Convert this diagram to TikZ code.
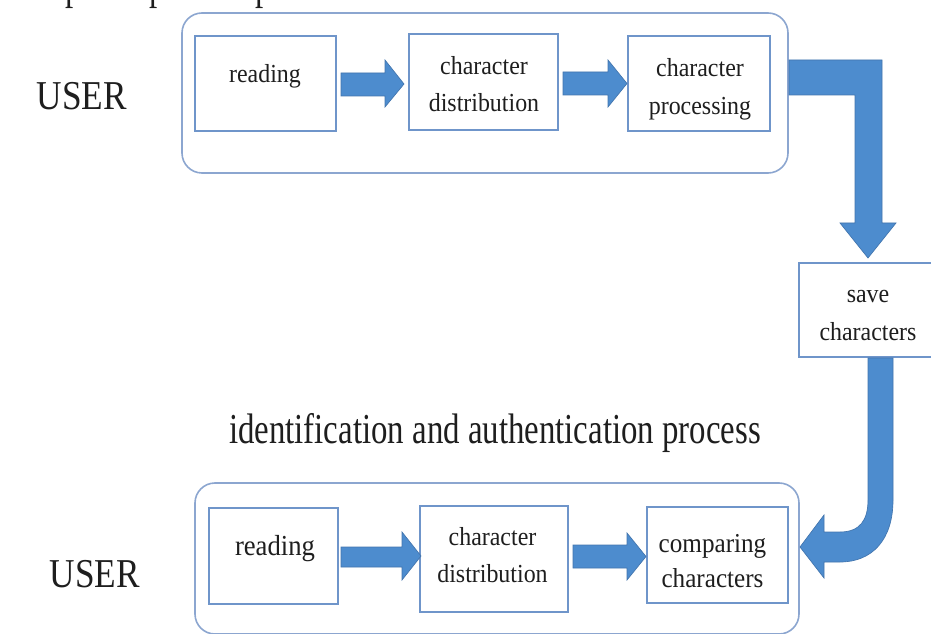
\documentclass[tikz,border=0pt]{standalone}
\usepackage{fontspec}
\setmainfont{Liberation Serif}
\newfontfamily\boxfont[FakeStretch=0.92]{Liberation Serif}
\newfontfamily\userfont[FakeStretch=0.86]{Liberation Serif}
\newfontfamily\titlefont[FakeStretch=0.77]{Liberation Serif}
\definecolor{arrowblue}{HTML}{4D8CCE}
\definecolor{arrowedge}{HTML}{4275AE}
\definecolor{boxedge}{HTML}{6F95CA}
\definecolor{outeredge}{HTML}{8CA6D0}
\definecolor{inktext}{HTML}{1E1E1E}
\tikzset{
  stepbox/.style={draw=boxedge, line width=1.5pt, fill=white, inner sep=0pt},
  outerbox/.style={draw=outeredge, line width=1.2pt, fill=white, rounded corners=15pt},
  blockarrow/.style={fill=arrowblue, draw=arrowedge, line width=0.5pt},
  lbl/.style={anchor=base, inner sep=0pt, text=inktext, font=\boxfont\fontsize{19.5}{24}\selectfont},
  userlbl/.style={anchor=base, inner sep=0pt, text=inktext, font=\userfont\fontsize{30.75}{36}\selectfont},
  titlelbl/.style={anchor=base, inner sep=0pt, text=inktext, font=\titlefont\fontsize{32}{38}\selectfont}
}
\begin{document}
\begin{tikzpicture}[x=0.75pt,y=-0.75pt]
\clip (0,0) rectangle (931,634);
\fill[white] (0,0) rectangle (931,634);

% cut-off text at the very top (only descenders visible)
\node[titlelbl] (p1) at (74,0) {p};
\node[titlelbl] (p2) at (158,0) {p};
\node[titlelbl] (p3) at (264,0) {p};

% ---------- top group ----------
\draw[outerbox] (182,13) rectangle (788,173);
\node[userlbl] (user1) at (82,110) {USER};

\node[stepbox, minimum width=141*0.75pt, minimum height=95*0.75pt] (r1) at (265.5,83.5) {};
\node[stepbox, minimum width=149*0.75pt, minimum height=96*0.75pt] (d1) at (483.5,82) {};
\node[stepbox, minimum width=142*0.75pt, minimum height=95*0.75pt] (c1) at (699,83.5) {};

\node[lbl] (r1t) at (265,83) {reading};
\node[lbl] (d1t) at (484,75) {character};
\node[lbl] (d1b) at (484,112) {distribution};
\node[lbl] (c1t) at (700,77) {character};
\node[lbl] (c1b) at (700,115) {processing};

% straight block arrows (top)
\draw[blockarrow] (341,73) -- (385,73) -- (385,60) -- (404,84) -- (385,107) -- (385,96) -- (341,96) -- cycle;
\draw[blockarrow] (563,72) -- (608,72) -- (608,60) -- (627,83.5) -- (608,107) -- (608,95) -- (563,95) -- cycle;

% elbow arrow to save characters
\draw[blockarrow] (789,60) -- (882,60) -- (882,223) -- (896,223) -- (868,258) -- (840,223) -- (855,223) -- (855,95) -- (789,95) -- cycle;

% save characters
\node[stepbox, minimum width=134*0.75pt, minimum height=94*0.75pt] (save) at (866,310) {};
\node[lbl] (savet) at (868,303) {save};
\node[lbl] (saveb) at (868,340) {characters};

% title
\node[titlelbl] (title) at (495,443) {identification and authentication process};

% ---------- bottom group ----------
\draw[outerbox] (195,483) rectangle (799,634);
\node[userlbl] (user2) at (95,587) {USER};

\node[stepbox, minimum width=129*0.75pt, minimum height=96*0.75pt] (r2) at (273.5,556) {};
\node[stepbox, minimum width=148*0.75pt, minimum height=106*0.75pt] (d2) at (494,558.5) {};
\node[stepbox, minimum width=141*0.75pt, minimum height=96*0.75pt] (c2) at (717.5,555) {};

\node[lbl, font=\boxfont\fontsize{21.75}{26}\selectfont] (r2t) at (275,555) {reading};
\node[lbl] (d2t) at (492.5,545) {character};
\node[lbl] (d2b) at (492.5,582) {distribution};
\node[lbl, font=\boxfont\fontsize{20.5}{25}\selectfont] (c2t) at (712.5,552) {comparing};
\node[lbl, font=\boxfont\fontsize{20.5}{25}\selectfont] (c2b) at (712.5,587) {characters};

% straight block arrows (bottom)
\draw[blockarrow] (341,547) -- (402,547) -- (402,532) -- (421,556) -- (402,580) -- (402,567) -- (341,567) -- cycle;
\draw[blockarrow] (573,545) -- (627,545) -- (627,533) -- (646,556.5) -- (627,580) -- (627,568) -- (573,568) -- cycle;

% curved arrow from save characters to comparing characters
\draw[blockarrow] (868,358) -- (893,358) -- (893,500)
  .. controls (893,540) and (872,562) .. (840,562)
  -- (824,562) -- (824,578) -- (800,547) -- (824,515) -- (824,532) -- (840,532)
  .. controls (860,532) and (868,520) .. (868,500) -- cycle;
\end{tikzpicture}
\end{document}
